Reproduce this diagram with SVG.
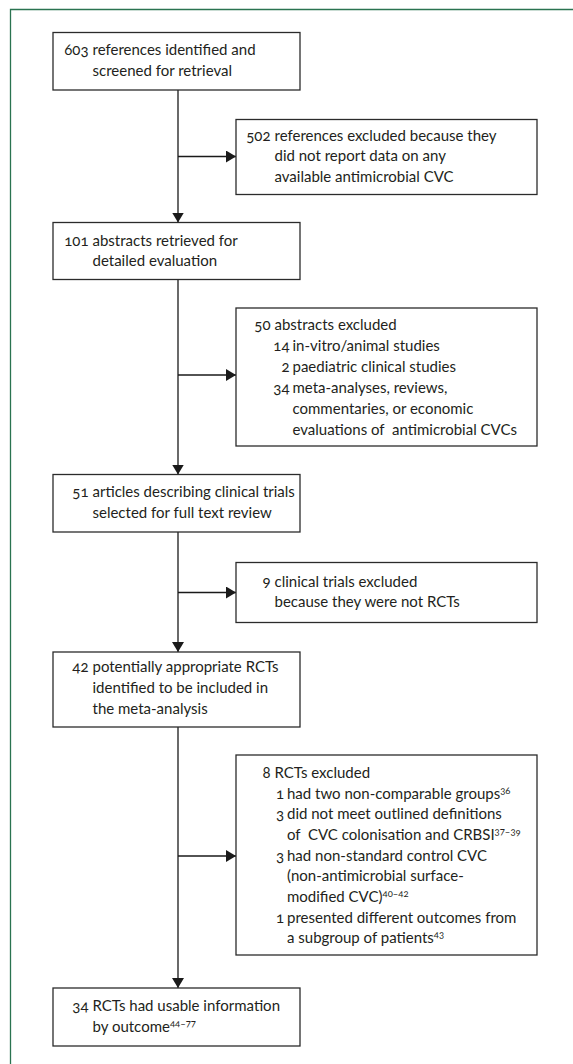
<svg xmlns="http://www.w3.org/2000/svg" width="573" height="1064" viewBox="0 0 573 1064">
<defs>
<style>
.frame{fill:none;stroke:#2a7350;stroke-width:1.3}
.box{fill:#fff;stroke:#2b2b2b;stroke-width:1.3}
.conn{fill:none;stroke:#1a1a1a;stroke-width:1.3}
text{font-family:Lato,"Liberation Sans",sans-serif;font-size:15px;fill:#231f20;font-variant-numeric:oldstyle-nums}
.n{text-anchor:end}
.sup{font-size:9.5px}
</style>
<marker id="arr" markerWidth="10" markerHeight="12" refX="10" refY="6" orient="auto" markerUnits="userSpaceOnUse">
<path d="M0,0 L10,6 L0,12 Z" fill="#1a1a1a"/>
</marker>
</defs>
<rect width="573" height="1064" fill="#fff"/>
<path class="frame" d="M10.5,1064 V9.5 H573"/>
<g id="connectors">
<path class="conn" d="M178,90 V222.5" marker-end="url(#arr)"/>
<path class="conn" d="M178,156.5 H236" marker-end="url(#arr)"/>
<path class="conn" d="M178,279.5 V474.5" marker-end="url(#arr)"/>
<path class="conn" d="M178,375 H236" marker-end="url(#arr)"/>
<path class="conn" d="M178,532 V652" marker-end="url(#arr)"/>
<path class="conn" d="M178,592.5 H236" marker-end="url(#arr)"/>
<path class="conn" d="M178,727 V988" marker-end="url(#arr)"/>
<path class="conn" d="M178,856 H236" marker-end="url(#arr)"/>
</g>
<g id="node1">
<rect class="box" x="53" y="32.5" width="247" height="57.5"/>
<text y="55"><tspan class="n" x="88.5">603</tspan><tspan x="92.5">references identified and</tspan></text>
<text x="92.5" y="75.5">screened for retrieval</text>
</g>
<g id="node2">
<rect class="box" x="236" y="119.5" width="301" height="75"/>
<text y="140.5"><tspan class="n" x="270.5">502</tspan><tspan x="274.5">references excluded because they</tspan></text>
<text x="274.5" y="161">did not report data on any</text>
<text x="274.5" y="181.7">available antimicrobial CVC</text>
</g>
<g id="node3">
<rect class="box" x="53" y="222.5" width="247" height="57"/>
<text y="245.5"><tspan class="n" x="88.5">101</tspan><tspan x="92.5">abstracts retrieved for</tspan></text>
<text x="92.5" y="266">detailed evaluation</text>
</g>
<g id="node4">
<rect class="box" x="236" y="308" width="301" height="138"/>
<text y="330"><tspan class="n" x="270.5">50</tspan><tspan x="274.5">abstracts excluded</tspan></text>
<text y="351"><tspan class="n" x="289.5">14</tspan><tspan x="292.5">in-vitro/animal studies</tspan></text>
<text y="372"><tspan class="n" x="289.5">2</tspan><tspan x="292.5">paediatric clinical studies</tspan></text>
<text y="393"><tspan class="n" x="289.5">34</tspan><tspan x="292.5">meta-analyses, reviews,</tspan></text>
<text x="292.5" y="414">commentaries, or economic</text>
<text x="292.5" y="435" xml:space="preserve">evaluations of  antimicrobial CVCs</text>
</g>
<g id="node5">
<rect class="box" x="53" y="474.5" width="247" height="57.5"/>
<text y="497"><tspan class="n" x="88.5">51</tspan><tspan x="92.5">articles describing clinical trials</tspan></text>
<text x="92.5" y="517.5">selected for full text review</text>
</g>
<g id="node6">
<rect class="box" x="236" y="562.5" width="301" height="60"/>
<text y="586.5"><tspan class="n" x="270.5">9</tspan><tspan x="274.5">clinical trials excluded</tspan></text>
<text x="274.5" y="607">because they were not RCTs</text>
</g>
<g id="node7">
<rect class="box" x="53" y="652" width="247" height="75"/>
<text y="672"><tspan class="n" x="88.5">42</tspan><tspan x="92.5">potentially appropriate RCTs</tspan></text>
<text x="92.5" y="693">identified to be included in</text>
<text x="92.5" y="714">the meta-analysis</text>
</g>
<g id="node8">
<rect class="box" x="236" y="755" width="301" height="200"/>
<text y="777.8"><tspan class="n" x="270.5">8</tspan><tspan x="274.5">RCTs excluded</tspan></text>
<text y="798.5"><tspan class="n" x="284">1</tspan><tspan x="287">had two non-comparable groups</tspan><tspan class="sup" dy="-5">36</tspan></text>
<text y="819.2"><tspan class="n" x="284">3</tspan><tspan x="287">did not meet outlined definitions</tspan></text>
<text y="839.9" xml:space="preserve"><tspan x="287">of  CVC colonisation and CRBSI</tspan><tspan class="sup" dy="-5">37–39</tspan></text>
<text y="860.6"><tspan class="n" x="284">3</tspan><tspan x="287">had non-standard control CVC</tspan></text>
<text x="287" y="881.3">(non-antimicrobial surface-</text>
<text y="902"><tspan x="287">modified CVC)</tspan><tspan class="sup" dy="-5">40–42</tspan></text>
<text y="922.7"><tspan class="n" x="284">1</tspan><tspan x="287">presented different outcomes from</tspan></text>
<text y="943.4"><tspan x="287">a subgroup of patients</tspan><tspan class="sup" dy="-5">43</tspan></text>
</g>
<g id="node9">
<rect class="box" x="53" y="988" width="247" height="58"/>
<text y="1011"><tspan class="n" x="88.5">34</tspan><tspan x="92.5">RCTs had usable information</tspan></text>
<text y="1031.5"><tspan x="92.5">by outcome</tspan><tspan class="sup" dy="-5">44–77</tspan></text>
</g>
</svg>
